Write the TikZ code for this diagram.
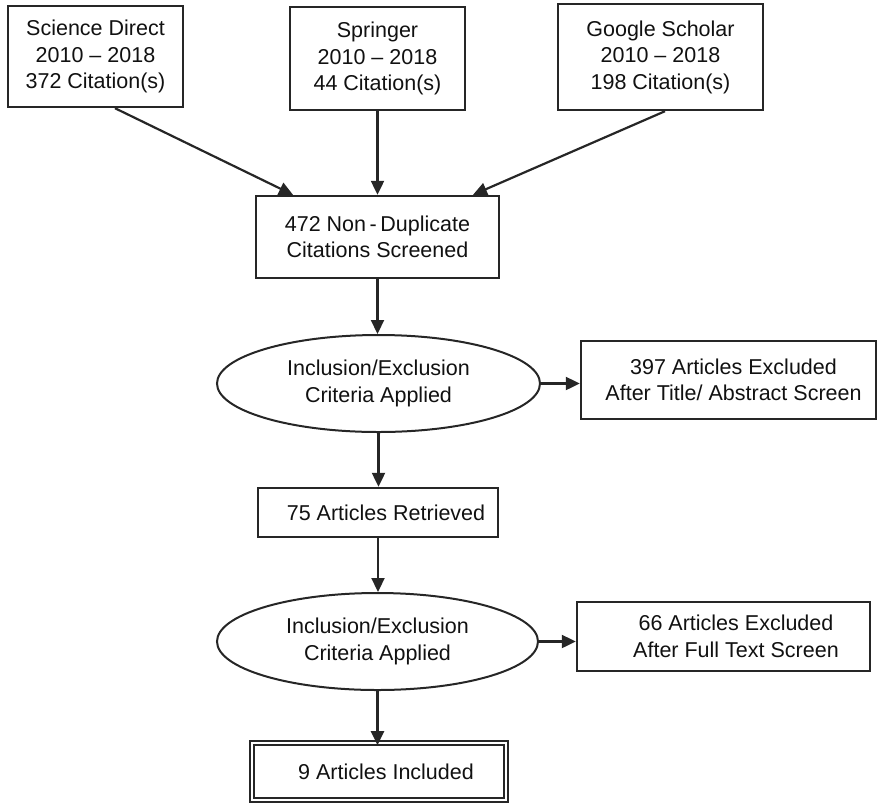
\documentclass[tikz,border=0pt]{standalone}
\usepackage{fontspec}
\setmainfont{Liberation Sans}
\usetikzlibrary{arrows.meta,shapes.geometric}
\definecolor{ln}{HTML}{262626}
\definecolor{tx}{HTML}{111111}
\tikzset{
  box/.style={draw=ln, line width=2.4pt, rectangle, align=center, inner sep=0pt,
    text=tx, font=\fontsize{21.5}{26.5}\selectfont},
  oval/.style={draw=ln, line width=2pt, ellipse, align=center, inner sep=0pt,
    text=tx, font=\fontsize{21.5}{26.5}\selectfont},
  dbox/.style={draw=ln, line width=1.6pt, double, double distance=2.6pt, rectangle,
    align=center, inner sep=0pt, text=tx, font=\fontsize{21.5}{26.5}\selectfont},
  conn/.style={draw=ln, line width=2.2pt, -{Triangle[length=14pt,width=13pt]}}
}
\begin{document}
\begin{tikzpicture}[x=1pt,y=-1pt]
\useasboundingbox (0,0) rectangle (878,804);
\node[box, minimum width=175pt, minimum height=101pt] (sd) at (95.5,56.5)
  {Science Direct\\2010 -- 2018\\372 Citation(s)};
\node[box, minimum width=175pt, minimum height=103pt] (sp) at (377.5,58.5)
  {Springer\\2010 -- 2018\\44 Citation(s)};
\node[box, minimum width=205pt, minimum height=106pt] (gs) at (660.5,57)
  {Google Scholar\\2010 -- 2018\\198 Citation(s)};
\node[box, minimum width=243pt, minimum height=82pt] (mid) at (377.5,237)
  {472 Non\,-\,Duplicate\\Citations Screened};
\node[oval, minimum width=323pt, minimum height=97pt] (e1) at (378.5,383.5)
  {Inclusion/Exclusion\\Criteria Applied};
\node[box, minimum width=295pt, minimum height=78pt] (ex1) at (728.5,380)
  {\hspace*{10pt}397 Articles Excluded\\\hspace*{10pt}After Title/ Abstract Screen};
\node[box, minimum width=240pt, minimum height=49pt] (ret) at (378,512.5)
  {\hspace*{16pt}75 Articles Retrieved};
\node[oval, minimum width=321pt, minimum height=97pt] (e2) at (377.5,641.5)
  {Inclusion/Exclusion\\Criteria Applied};
\node[box, minimum width=293pt, minimum height=69pt] (ex2) at (723.5,636.5)
  {\hspace*{25pt}66 Articles Excluded\\\hspace*{25pt}After Full Text Screen};
\node[dbox, minimum width=254pt, minimum height=57pt] (inc) at (379,771.5)
  {\hspace*{14pt}9 Articles Included};
\draw[conn] ([xshift=19.5pt]sd.south) -- ([xshift=-84.5pt]mid.north);
\draw[conn] (sp.south) -- (mid.north);
\draw[conn] ([xshift=4.5pt]gs.south) -- ([xshift=95.5pt]mid.north);
\draw[conn] (mid.south) -- (mid.south |- e1.north);
\draw[conn] (e1.east) -- (e1.east -| ex1.west);
\draw[conn] (e1.south) -- (e1.south |- ret.north);
\draw[conn] (ret.south) -- (ret.south |- e2.north);
\draw[conn] (e2.east) -- (e2.east -| ex2.west);
\draw[conn] (e2.south) -- ([yshift=-3pt]e2.south |- inc.north);
\end{tikzpicture}
\end{document}
